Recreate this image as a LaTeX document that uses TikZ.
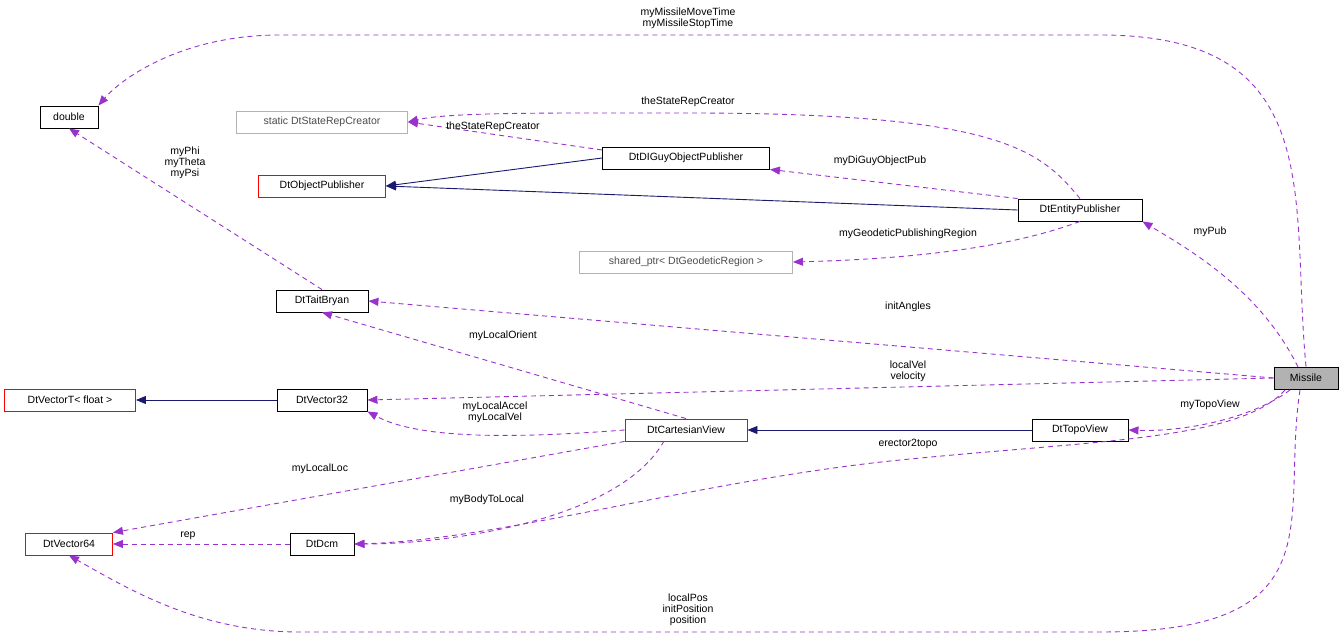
\documentclass[tikz,border=0pt]{standalone}
\usepackage{fontspec}
\setmainfont{Liberation Sans}
\usetikzlibrary{arrows.meta}
\definecolor{dpurple}{RGB}{153,50,204}
\definecolor{dnavy}{RGB}{25,25,112}
\begin{document}
\begin{tikzpicture}[x=1pt,y=-1pt,font=\fontsize{10.5}{11}\selectfont,
 box/.style={draw=black,fill=white,minimum height=22,inner xsep=5,anchor=center,line width=0.9},
 red/.style={box,draw=red},
 gray/.style={box,draw=gray!60,text=black!70},
 dep/.style={draw=dpurple,line width=0.9,dash pattern=on 5pt off 4pt,-{Triangle[width=8,length=10,fill=dpurple]},fill=none},
 inh/.style={draw=dnavy,line width=0.9,-{Triangle[width=8,length=10,fill=dnavy]}},
 lbl/.style={align=center,inner sep=1,font=\fontsize{10.5}{11}\selectfont}]
\useasboundingbox (0,0) rectangle (1344,639);
\node[box,minimum width=58] (dbl) at (69,117) {double};
\node[gray,minimum width=171] (srep) at (322,122) {static DtStateRepCreator};
\node[box,minimum width=167] (digo) at (686,158) {DtDIGuyObjectPublisher};
\node[red,minimum width=127] (objp) at (322,186) {DtObjectPublisher};
\node[box,minimum width=124] (entp) at (1080,210) {DtEntityPublisher};
\node[gray,minimum width=213] (shp) at (686,262) {shared\_ptr< DtGeodeticRegion >};
\node[box,minimum width=92] (tait) at (322,301) {DtTaitBryan};
\node[box,fill=gray!60,minimum width=64] (mis) at (1306,378) {Missile};
\node[red,minimum width=131] (vt) at (70,400) {DtVectorT< float >};
\node[box,minimum width=90] (v32) at (322,400) {DtVector32};
\node[red,minimum width=122] (cart) at (686,430) {DtCartesianView};
\node[box,minimum width=96] (topo) at (1080,430) {DtTopoView};
\node[red,minimum width=87] (v64) at (69,544) {DtVector64};
\node[box,minimum width=64] (dcm) at (322,544) {DtDcm};

\draw[inh] (digo.west) -- (objp.east);
\draw[inh] (entp.west) -- (objp.east);
\draw[inh] (v32.west) -- (vt.east);
\draw[inh] (topo.west) -- (cart.east);

\draw[dep] (mis.north) .. controls (1290,200) and (1330,35) .. (1100,35) -- (280,35) .. controls (180,35) and (120,80) .. (dbl.north east);
\node[lbl] at (688,18) {myMissileMoveTime\\myMissileStopTime};
\draw[dep] (entp.north) .. controls (1040,150) and (1000,113) .. (688,113) .. controls (550,113) and (450,112) .. (srep.east);
\node[lbl] at (688,102) {theStateRepCreator};
\draw[dep] (digo.west|-0,150) -- (srep.east);
\node[lbl] at (493,127) {theStateRepCreator};
\draw[dep] (entp.north west) -- (digo.south east);
\node[lbl] at (880,161) {myDiGuyObjectPub};
\draw[dep] (entp.south) .. controls (1030,240) and (950,258) .. (shp.east);
\node[lbl] at (908,234) {myGeodeticPublishingRegion};
\draw[dep] (1298,367) .. controls (1260,290) and (1190,250) .. (entp.south east);
\node[lbl] at (1210,232) {myPub};
\draw[dep] (tait.north) -- (dbl.south);
\node[lbl] at (185,163) {myPhi\\myTheta\\myPsi};
\draw[dep] (mis.west) -- (tait.east);
\node[lbl] at (908,307) {initAngles};
\draw[dep] (cart.north) -- (tait.south);
\node[lbl] at (503,336) {myLocalOrient};
\draw[dep] (mis.west) -- (v32.east);
\node[lbl] at (908,371) {localVel\\velocity};
\draw[dep] (cart.west) .. controls (520,438) and (420,440) .. (v32.south east);
\node[lbl] at (495,412) {myLocalAccel\\myLocalVel};
\draw[dep] (1290,390) .. controls (1250,420) and (1180,432) .. (topo.east);
\node[lbl] at (1210,405) {myTopoView};
\draw[dep] (1285,390) .. controls (1240,440) and (1100,440) .. (900,460) .. controls (700,480) and (500,540) .. (dcm.east);
\node[lbl] at (908,444) {erector2topo};
\draw[dep] (cart.south west) -- (v64.north east);
\node[lbl] at (320,469) {myLocalLoc};
\draw[dep] (664,441) .. controls (620,520) and (450,544) .. (dcm.east);
\node[lbl] at (487,500) {myBodyToLocal};
\draw[dep] (dcm.west) -- (v64.east);
\node[lbl] at (188,536) {rep};
\draw[dep] (1300,390) .. controls (1280,520) and (1340,632) .. (1100,632) -- (300,632) .. controls (200,632) and (130,590) .. (v64.south);
\node[lbl] at (688,610) {localPos\\initPosition\\position};
\end{tikzpicture}
\end{document}
